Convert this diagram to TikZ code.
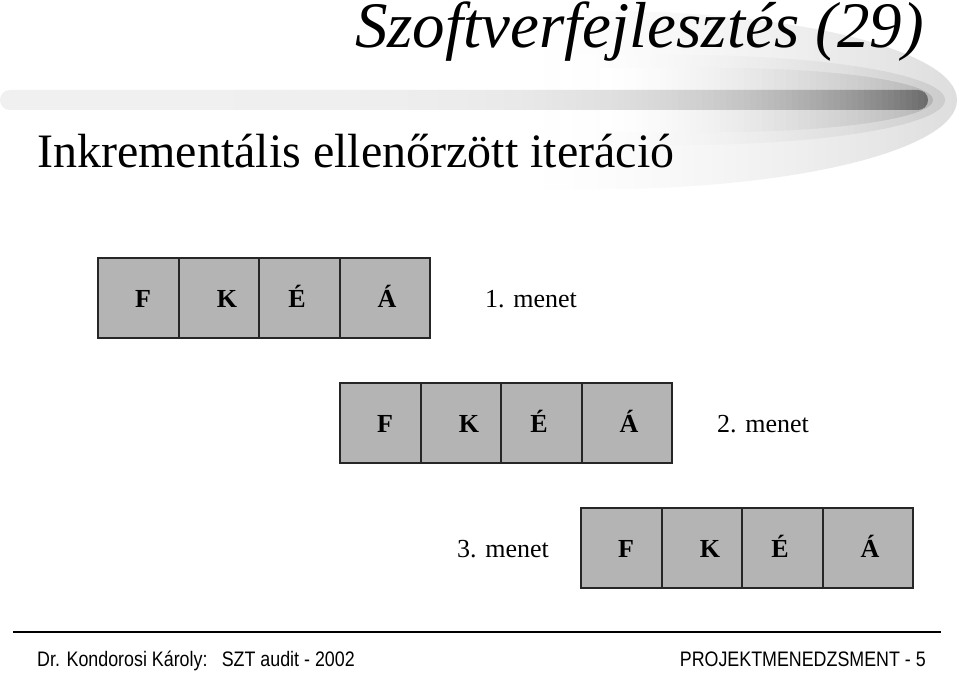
\documentclass[tikz,border=0pt]{standalone}
\usepackage{fontspec}
\setmainfont{Liberation Serif}
\newfontfamily\footfont{Liberation Sans}
\tikzset{
  cell/.style={draw=black!85, line width=1.5bp, fill=black!29.5, minimum height=80bp, inner sep=0pt, anchor=north west},
  letter/.style={font=\bfseries\fontsize{26bp}{30bp}\selectfont, inner sep=0pt, anchor=base},
  menet/.style={font=\fontsize{26bp}{30bp}\selectfont, inner sep=0pt, anchor=base west},
  foot/.style={font=\footfont\fontsize{21bp}{24bp}\selectfont, inner sep=0pt},
}
% banded gradient: #1 start x, #2 end x, #3 start percent, #4 end percent, #5 exponent
\newcommand\bandfill[5]{%
  \pgfmathtruncatemacro\nb{((#2)-(#1))/6}%
  \foreach \i in {0,...,\nb}{%
    \pgfmathsetmacro\xa{#1+6*\i}%
    \pgfmathsetmacro\tt{min(1,max(0,(\xa+3-(#1))/((#2)-(#1))))}%
    \pgfmathsetmacro\p{#3+(#4-#3)*(\tt)^(#5)}%
    \fill[black!\p] (\xa,0) rectangle (\xa+7,200);
  }%
}
\newcommand\menetrow[3]{%
  \node[cell, minimum width=81bp] (#1F) at (#2,#3) {};
  \node[cell, minimum width=80bp] (#1K) at (#2+81,#3) {};
  \node[cell, minimum width=81bp] (#1E) at (#2+161,#3) {};
  \node[cell, minimum width=90bp] (#1A) at (#2+242,#3) {};
  \node[letter] (#1f) at (#2+46,#3+50) {F};
  \node[letter] (#1k) at (#2+130,#3+50) {K};
  \node[letter] (#1e) at (#2+200,#3+50) {É};
  \node[letter] (#1a) at (#2+290,#3+50) {Á};
}
\begin{document}
\begin{tikzpicture}[x=1bp,y=-1bp]
\useasboundingbox (0,0) rectangle (959,673);
\fill[white] (0,0) rectangle (959,673);
% swoosh: nested layers
\begin{scope}
  \clip (-50,11) -- (600,11) arc[start angle=90, end angle=-90, x radius=357bp, y radius=89bp] -- (-50,189) -- cycle;
  \bandfill{520}{957}{0}{13}{1.5}
\end{scope}
\begin{scope}
  \clip (-50,55) -- (680,55) arc[start angle=90, end angle=-90, x radius=265bp, y radius=45bp] -- (-50,145) -- cycle;
  \bandfill{560}{945}{0}{20}{1.5}
\end{scope}
\begin{scope}
  \clip (-50,68) -- (720,68) arc[start angle=90, end angle=-90, x radius=213bp, y radius=32bp] -- (-50,132) -- cycle;
  \bandfill{600}{933}{0}{29}{1.5}
\end{scope}
\begin{scope}
  \clip[rounded corners=10bp] (0,90) rectangle (928,110);
  \bandfill{0}{928}{6}{58}{5}
\end{scope}
% titles
\node[font=\itshape\fontsize{65bp}{72bp}\selectfont, inner sep=0pt, anchor=base west, text height=46bp, text depth=12bp] (title) at (355,48) {Szoftverfejlesztés (29)};
\node[font=\fontsize{48bp}{56bp}\selectfont, inner sep=0pt, anchor=base west] (subtitle) at (37,168) {Inkrementális ellenőrzött iteráció};
% rows
\menetrow{a}{97}{257}
\menetrow{b}{339}{382}
\menetrow{c}{580}{507}
\node[menet] (m1) at (485,307) {1. menet};
\node[menet] (m2) at (717,432) {2. menet};
\node[menet] (m3) at (457,557) {3. menet};
% footer
\coordinate (fl) at (13,632);
\coordinate (fr) at (941,632);
\draw[line width=2bp] (fl) -- (fr);
\node[foot, anchor=base west] (footl) at (37,666) {\scalebox{0.85}[1]{Dr. Kondorosi Károly:\hspace{0.8em}SZT audit - 2002}};
\node[foot, anchor=base east] (footr) at (926,666) {\scalebox{0.85}[1]{PROJEKTMENEDZSMENT - 5}};
\end{tikzpicture}
\end{document}
